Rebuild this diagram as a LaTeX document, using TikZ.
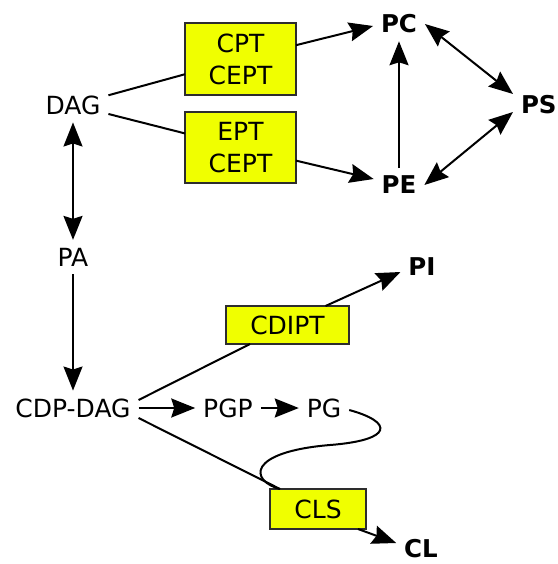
\documentclass[tikz,border=0pt]{standalone}
\usepackage{fontspec}
\setmainfont{DejaVu Sans}
\usetikzlibrary{arrows.meta}
\definecolor{boxyellow}{RGB}{240,255,0}
\definecolor{boxedge}{RGB}{45,45,45}
\begin{document}
\begin{tikzpicture}[x=1pt,y=-1pt,
  lbl/.style={font=\fontsize{25}{30}\selectfont, inner sep=7pt, outer sep=1pt},
  blbl/.style={font=\fontsize{24.5}{30}\selectfont\bfseries, inner sep=7pt, outer sep=1pt},
  enz/.style={draw=boxedge, line width=1.2pt, fill=boxyellow, align=center,
    font=\fontsize{25}{32}\selectfont, inner sep=0pt, outer sep=0pt},
  conn/.style={line width=2pt},
  tipx/.tip={Stealth[length=24pt,width=19pt,inset=3pt]},
  arr/.style={conn, -tipx},
  darr/.style={conn, tipx-tipx}]
\useasboundingbox (0,0) rectangle (557,564);
% nodes
\node[lbl] (DAG) at (73,105) {DAG};
\node[enz, minimum width=111pt, minimum height=72pt] (B1) at (240.5,59) {CPT\\CEPT};
\node[enz, minimum width=111pt, minimum height=71pt] (B2) at (240.5,147.5) {EPT\\CEPT};
\node[blbl] (PC) at (399,24) {PC};
\node[blbl] (PE) at (399,185) {PE};
\node[blbl, anchor=west] (PS) at (513,105) {PS};
\node[lbl] (PA) at (73,257) {PA};
\node[lbl] (CDP) at (73,408) {CDP-DAG};
\node[lbl] (PGP) at (228,408) {PGP};
\node[lbl] (PG) at (324,408) {PG};
\node[enz, minimum width=123pt, minimum height=38pt] (CDIPT) at (287.5,325) {CDIPT};
\node[blbl] (PI) at (422,267) {PI};
\node[enz, minimum width=96pt, minimum height=40pt] (CLS) at (318,509) {CLS};
\node[blbl] (CL) at (421,549) {CL};
\coordinate (bend) at (330,445);
% connectors
\draw[conn] (DAG) -- (B1);
\draw[conn] (DAG) -- (B2);
\draw[arr] (B1) -- ([yshift=-2pt]PC.west);
\draw[arr] (B2) -- (PE);
\draw[arr] (PE) -- (PC);
\draw[darr] (PC.east) -- ([yshift=11pt]PS.west);
\draw[darr] ([yshift=-7pt]PS.west) -- (PE.east);
\draw[darr] (DAG) -- (PA);
\draw[arr] (PA) -- (CDP);
\draw[arr] (CDP) -- (PGP);
\draw[arr] (PGP) -- (PG);
\draw[conn] ([yshift=8pt]CDP.east) -- ([xshift=-37.5pt]CDIPT.south);
\draw[arr] ([xshift=38pt]CDIPT.north) -- ([yshift=-5pt]PI.west);
\draw[conn] ([yshift=-10pt]CDP.east) -- ([xshift=10pt]CLS.north west);
\draw[arr] ([xshift=-8pt]CLS.south east) -- ([yshift=6pt]CL.west);
\draw[conn] ([yshift=-2pt]PG.east) .. controls +(44,12) and +(64,-5) .. (bend)
  .. controls +(-84,7) and ([xshift=-20pt,yshift=8pt]CLS.north west) .. ([xshift=10pt]CLS.north west);
\end{tikzpicture}
\end{document}
